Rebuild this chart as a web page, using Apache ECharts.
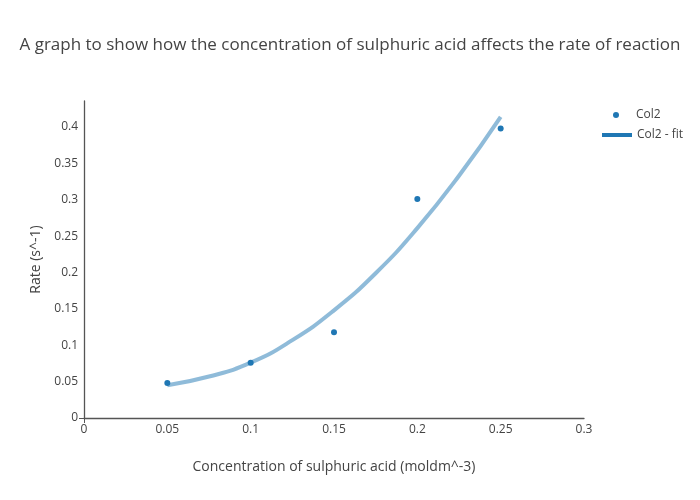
<!DOCTYPE html>
<html>
<head>
<meta charset="utf-8">
<script src="https://cdn.jsdelivr.net/npm/echarts@6/dist/echarts.min.js"></script>
<style>html,body{margin:0;padding:0;background:#fff}#c{width:700px;height:500px}</style>
</head>
<body>
<div id="c"></div>
<script>
const concentration = [0.05, 0.1, 0.15, 0.2, 0.25];
const rate = [0.048, 0.076, 0.118, 0.301, 0.398];
const fitX = [0.05, 0.075, 0.1, 0.125, 0.15, 0.175, 0.2, 0.225, 0.25];
const fitY = [0.045, 0.057, 0.076, 0.107, 0.148, 0.199, 0.261, 0.333, 0.414];
const titleText = 'A graph to show how the concentration of sulphuric acid affects the rate of reaction';
const xName = 'Concentration of sulphuric acid (moldm^-3)';
const yName = 'Rate (s^-1)';

const font = '"Open Sans", "Noto Sans", sans-serif';
const chart = echarts.init(document.getElementById('c'), null, {renderer: 'canvas'});
chart.setOption({
  animation: false,
  backgroundColor: '#fff',
  textStyle: {fontFamily: font},
  title: {
    text: titleText, left: 'center', top: 32,
    textStyle: {fontFamily: font, fontSize: 17, fontWeight: 'normal', color: '#444'}
  },
  legend: [
    {
      data: [{name: 'Col2', icon: 'circle'}],
      left: 613, top: 109, padding: 0, itemWidth: 6, itemHeight: 6,
      textStyle: {fontFamily: font, fontSize: 12, color: '#444', padding: [0, 0, 0, 12]}
    },
    {
      data: [{name: 'Col2 - fit', icon: 'rect'}],
      left: 602, top: 129, padding: 0, itemWidth: 30, itemHeight: 4,
      itemStyle: {color: '#1f77b4', opacity: 1},
      textStyle: {fontFamily: font, fontSize: 12, color: '#444'}
    }
  ],
  grid: {left: 84, right: 116, top: 101, bottom: 82, containLabel: false},
  xAxis: {
    type: 'value', min: 0, max: 0.3, interval: 0.05,
    name: xName, nameLocation: 'middle', nameGap: 42,
    nameTextStyle: {fontFamily: font, fontSize: 14, color: '#444'},
    axisLine: {show: true, onZero: false, lineStyle: {color: '#555', width: 1.3}},
    axisTick: {show: true, customValues: [0], length: 5, lineStyle: {color: '#555'}},
    axisLabel: {color: '#444', fontSize: 12, fontFamily: font, margin: 6},
    splitLine: {show: true, lineStyle: {color: '#eee', width: 1}}
  },
  yAxis: {
    type: 'value', min: 0, max: 0.4357, interval: 0.05,
    name: yName, nameLocation: 'middle', nameGap: 38,
    nameTextStyle: {fontFamily: font, fontSize: 14, color: '#444'},
    axisLine: {show: true, onZero: false, lineStyle: {color: '#555', width: 1.3}},
    axisTick: {show: true, customValues: [0], length: 5, lineStyle: {color: '#555'}},
    axisLabel: {color: '#444', fontSize: 12, fontFamily: font, margin: 6, showMaxLabel: false},
    splitLine: {show: true, showMaxLine: false, lineStyle: {color: '#eee', width: 1}}
  },
  series: [
    {
      name: 'Col2 - fit', type: 'line', smooth: true, showSymbol: false, symbol: 'none',
      data: fitX.map((x, i) => [x, fitY[i]]),
      lineStyle: {color: '#1f77b4', width: 4, opacity: 0.5},
      itemStyle: {color: '#1f77b4'},
      z: 2
    },
    {
      name: 'Col2', type: 'scatter', symbol: 'circle', symbolSize: 6,
      data: concentration.map((x, i) => [x, rate[i]]),
      itemStyle: {color: '#1f77b4', opacity: 1},
      z: 3
    }
  ]
});
</script>
</body>
</html>
